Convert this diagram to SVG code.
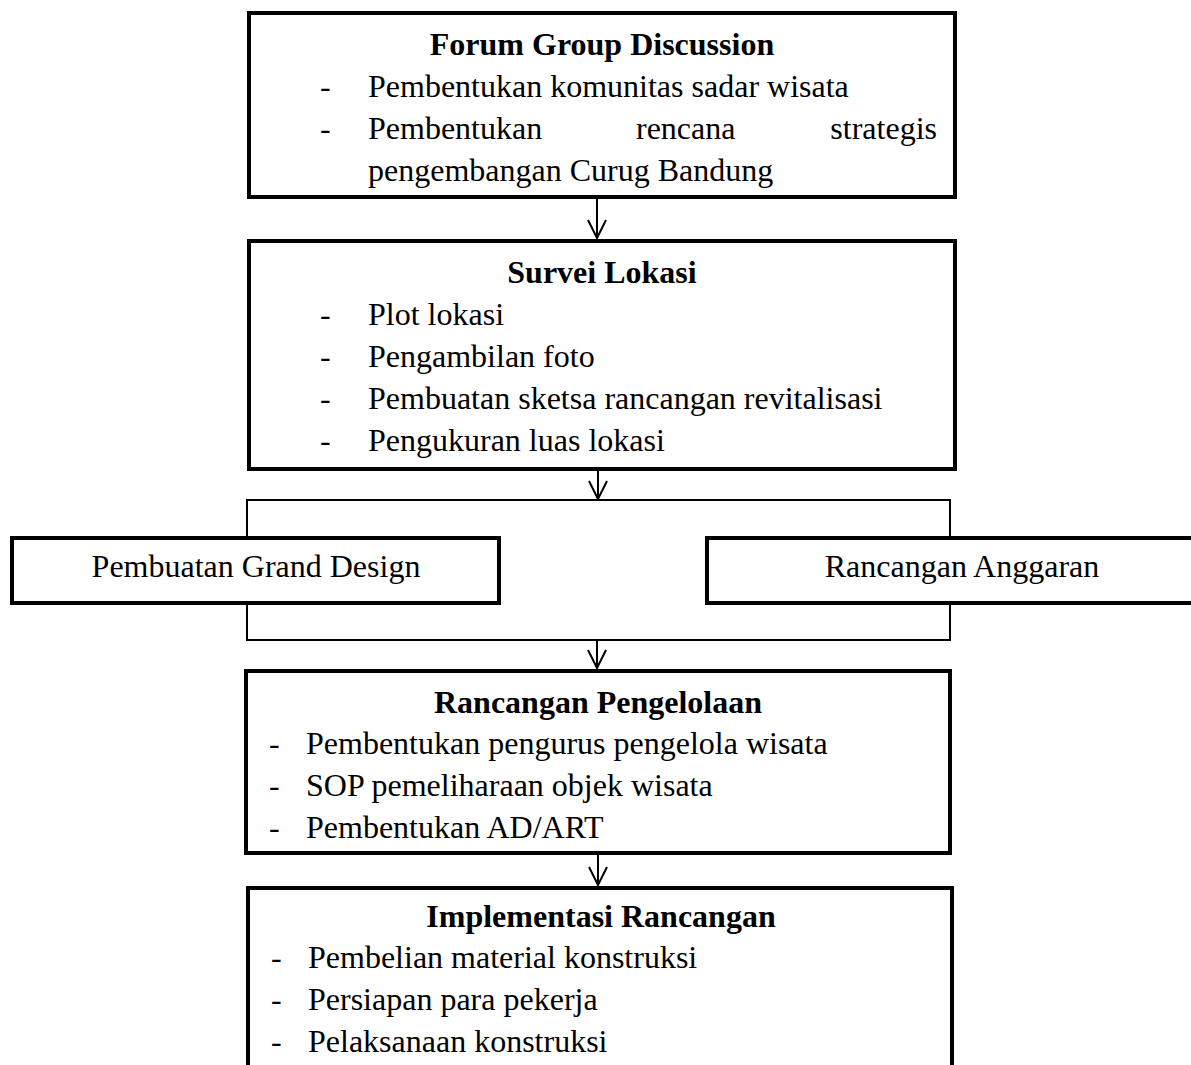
<svg xmlns="http://www.w3.org/2000/svg" width="1191" height="1065" viewBox="0 0 1191 1065">
<style>
.box{fill:#fff;stroke:#000;stroke-width:4}
.t{font-family:"Liberation Serif","Times New Roman",serif;font-size:32px;fill:#000}
.b{font-weight:bold;text-anchor:middle}
.c{text-anchor:middle}
.ln{stroke:#000;stroke-width:2;fill:none}
</style>
<defs>
<marker id="ah" viewBox="0 0 20 20" refX="19" refY="10" markerWidth="20" markerHeight="20" markerUnits="userSpaceOnUse" orient="auto">
<path d="M1,1 L19,10 L1,19" fill="none" stroke="#000" stroke-width="2"/>
</marker>
</defs>
<rect width="1191" height="1065" fill="#fff"/>
<g id="connectors">
<line class="ln" x1="597" y1="199" x2="597" y2="238" marker-end="url(#ah)"/>
<line class="ln" x1="598" y1="471" x2="598" y2="499" marker-end="url(#ah)"/>
<polyline class="ln" points="247,537 247,500 950,500 950,537"/>
<polyline class="ln" points="247,605 247,640 950,640 950,605"/>
<line class="ln" x1="597" y1="640" x2="597" y2="668" marker-end="url(#ah)"/>
<line class="ln" x1="598" y1="855" x2="598" y2="885" marker-end="url(#ah)"/>
</g>
<g id="node-fgd">
<rect class="box" x="249" y="13" width="706" height="184"/>
<text class="t b" x="602" y="55">Forum Group Discussion</text>
<text class="t" x="320" y="97">-</text>
<text class="t" x="368" y="97">Pembentukan komunitas sadar wisata</text>
<text class="t" x="320" y="139">-</text>
<text class="t" x="368" y="139">Pembentukan</text>
<text class="t" x="636" y="139">rencana</text>
<text class="t" x="937" y="139" text-anchor="end">strategis</text>
<text class="t" x="368" y="181">pengembangan Curug Bandung</text>
</g>
<g id="node-survei">
<rect class="box" x="249" y="241" width="706" height="228"/>
<text class="t b" x="602" y="283">Survei Lokasi</text>
<text class="t" x="320" y="325">-</text>
<text class="t" x="368" y="325">Plot lokasi</text>
<text class="t" x="320" y="367">-</text>
<text class="t" x="368" y="367">Pengambilan foto</text>
<text class="t" x="320" y="409">-</text>
<text class="t" x="368" y="409">Pembuatan sketsa rancangan revitalisasi</text>
<text class="t" x="320" y="451">-</text>
<text class="t" x="368" y="451">Pengukuran luas lokasi</text>
</g>
<g id="node-grand">
<rect class="box" x="12" y="538" width="487" height="65"/>
<text class="t c" x="256" y="577">Pembuatan Grand Design</text>
</g>
<g id="node-anggaran">
<rect class="box" x="707" y="538" width="520" height="65"/>
<text class="t c" x="962" y="577">Rancangan Anggaran</text>
</g>
<g id="node-pengelolaan">
<rect class="box" x="246" y="671" width="704" height="182"/>
<text class="t b" x="598" y="713">Rancangan Pengelolaan</text>
<text class="t" x="269" y="754">-</text>
<text class="t" x="306" y="754">Pembentukan pengurus pengelola wisata</text>
<text class="t" x="269" y="796">-</text>
<text class="t" x="306" y="796">SOP pemeliharaan objek wisata</text>
<text class="t" x="269" y="838">-</text>
<text class="t" x="306" y="838">Pembentukan AD/ART</text>
</g>
<g id="node-implementasi">
<rect class="box" x="248" y="888" width="704" height="200"/>
<text class="t b" x="601" y="927">Implementasi Rancangan</text>
<text class="t" x="271" y="968">-</text>
<text class="t" x="308" y="968">Pembelian material konstruksi</text>
<text class="t" x="271" y="1010">-</text>
<text class="t" x="308" y="1010">Persiapan para pekerja</text>
<text class="t" x="271" y="1052">-</text>
<text class="t" x="308" y="1052">Pelaksanaan konstruksi</text>
</g>
</svg>
